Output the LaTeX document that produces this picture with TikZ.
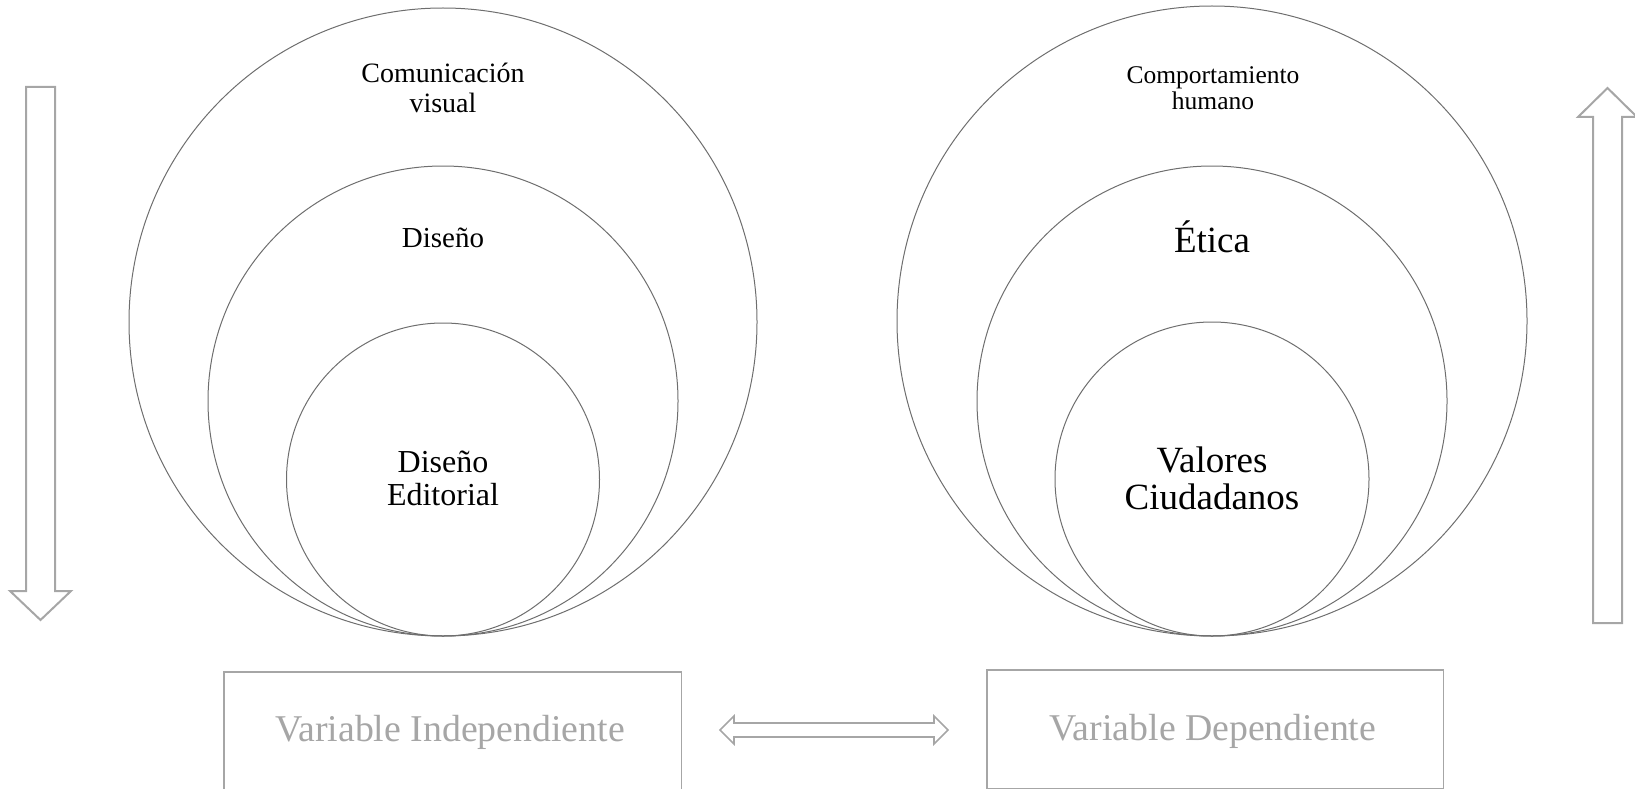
\documentclass[tikz,border=0pt]{standalone}
\usepackage{fontspec}
\setmainfont{Liberation Serif}
\definecolor{arrgray}{RGB}{166,166,166}
\definecolor{ringgray}{RGB}{110,110,110}
\begin{document}
\begin{tikzpicture}[x=1pt,y=-1pt,
  ring/.style={circle,draw=ringgray,line width=1pt,inner sep=0pt},
  lbl/.style={align=center,text=black,inner sep=0pt},
  blockarrow/.style={draw=arrgray,line width=2pt,line join=miter},
  varbox/.style={draw=arrgray,line width=1.5pt,inner sep=0pt},
  vartext/.style={text=arrgray,inner sep=0pt,font=\fontsize{37.8}{40}\selectfont},
]
\useasboundingbox (0,0) rectangle (1635,789);
\clip (0,0) rectangle (1635,789);
% left set of circles
\node[ring,minimum size=628pt] (lo) at (443,322) {};
\node[ring,minimum size=470pt] (lm) at (443,401) {};
\node[ring,minimum size=313pt] (li) at (443,479.5) {};
% right set of circles
\node[ring,minimum size=630pt] (ro) at (1212,321) {};
\node[ring,minimum size=470pt] (rm) at (1212,401) {};
\node[ring,minimum size=314pt] (ri) at (1212,479) {};
% labels
\node[lbl,font=\fontsize{28}{30}\selectfont] (tcom) at (443,88) {Comunicación\\visual};
\node[lbl,font=\fontsize{29}{31}\selectfont] (tdis) at (443,238) {Diseño};
\node[lbl,font=\fontsize{32}{33}\selectfont] (tedi) at (443,478) {Diseño\\Editorial};
\node[lbl,font=\fontsize{25.5}{26}\selectfont] (tcomp) at (1213,88) {Comportamiento\\humano};
\node[lbl,font=\fontsize{37}{40}\selectfont] (teti) at (1212,237) {Ética};
\node[lbl,font=\fontsize{37}{37}\selectfont] (tval) at (1212,478) {Valores\\Ciudadanos};
% boxes
\node[varbox,minimum width=457.5pt,minimum height=130pt,anchor=north] (vi) at (452.75,671) {};
\node[varbox,minimum width=456.5pt,minimum height=119pt,anchor=north] (vd) at (1215.25,669) {};
\node[vartext] (tvi) at (450,732) {Variable Independiente};
\node[vartext] (tvd) at (1213,731) {Variable Dependiente};
% side block arrows
\draw[blockarrow] (26,87) -- (55,87) -- (55,591) -- (71,591) -- (40.5,620) -- (10,591) -- (26,591) -- cycle;
\draw[blockarrow] (1593,623) -- (1622,623) -- (1622,117) -- (1637,117) -- (1607.5,88) -- (1578,117) -- (1593,117) -- cycle;
% double arrow between boxes
\coordinate (dl) at (720,730);
\coordinate (dr) at (948,730);
\draw[draw=arrgray,line width=1.6pt,line join=miter] (dl) -- (734,716) -- (734,723) -- (934,723) -- (934,716) -- (dr) -- (934,744) -- (934,737) -- (734,737) -- (734,744) -- cycle;
\end{tikzpicture}
\end{document}
